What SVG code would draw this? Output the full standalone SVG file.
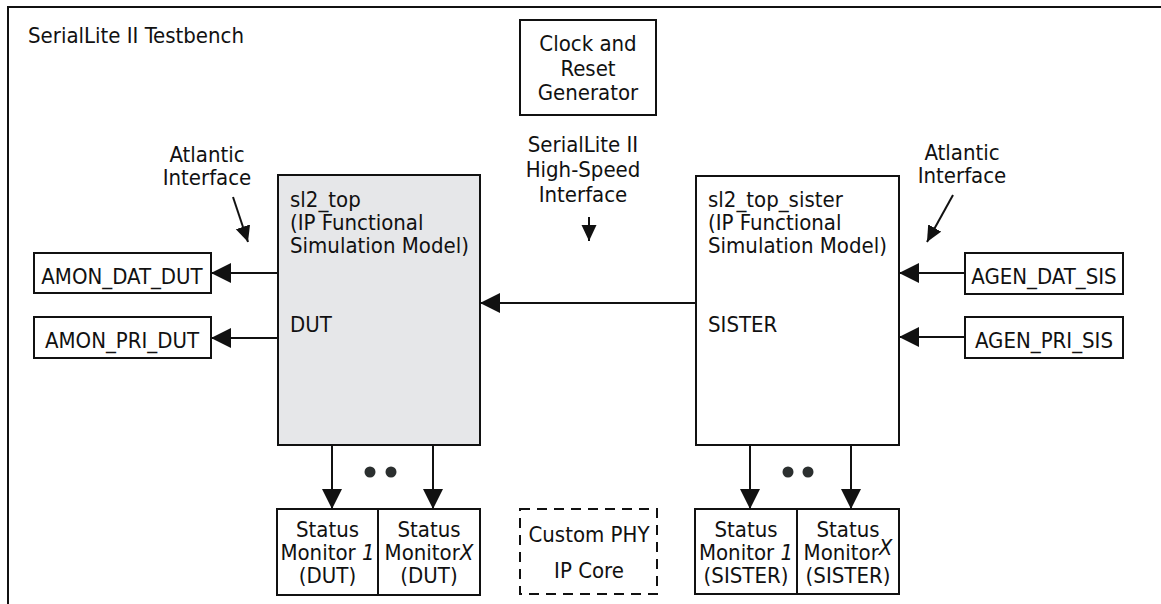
<svg xmlns="http://www.w3.org/2000/svg" width="1161" height="604" viewBox="0 0 1161 604">
<style>
text{font-family:"Liberation Sans Narrow","DejaVu Sans Condensed","Liberation Sans",sans-serif;font-stretch:condensed;font-size:22px;fill:#111}
.c{text-anchor:middle}
.box{fill:#fff;stroke:#111;stroke-width:2}
.gray{fill:#e6e7e9;stroke:#111;stroke-width:2}
.dash{fill:none;stroke:#111;stroke-width:2;stroke-dasharray:10 7}
.ln{fill:none;stroke:#111;stroke-width:2}
.big{marker-end:url(#ah)}
.sm{marker-end:url(#as)}
.dot{fill:#2b2f2f}
</style>
<defs>
<marker id="ah" markerUnits="userSpaceOnUse" markerWidth="22" markerHeight="22" refX="20" refY="10" orient="auto"><path d="M0,0 L20,10 L0,20 Z" fill="#111"/></marker>
<marker id="as" markerUnits="userSpaceOnUse" markerWidth="18" markerHeight="16" refX="16" refY="7.5" orient="auto"><path d="M0,0 L16,7.5 L0,15 Z" fill="#111"/></marker>
</defs>
<g id="frame">
<path class="ln" d="M8,604 V7 H1161" stroke-width="2.5"/>
<text x="28" y="43">SerialLite II Testbench</text>
</g>
<g id="clock">
<rect class="box" x="520" y="20" width="136" height="95"/>
<text class="c" x="588" y="51">Clock and</text>
<text class="c" x="588" y="76">Reset</text>
<text class="c" x="588" y="100">Generator</text>
</g>
<g id="hs-label">
<text class="c" x="583" y="152">SerialLite II</text>
<text class="c" x="583" y="177">High-Speed</text>
<text class="c" x="583" y="202">Interface</text>
</g>
<g id="atl-left">
<text class="c" x="207" y="162">Atlantic</text>
<text class="c" x="207" y="185">Interface</text>
</g>
<g id="atl-right">
<text class="c" x="962" y="160">Atlantic</text>
<text class="c" x="962" y="183">Interface</text>
</g>
<g id="dut">
<rect class="gray" x="278" y="175" width="202" height="270"/>
<text x="290" y="207">sl2_top</text>
<text x="290" y="230">(IP Functional</text>
<text x="290" y="253">Simulation Model)</text>
<text x="290" y="332">DUT</text>
</g>
<g id="sister">
<rect class="box" x="696" y="176" width="203" height="269"/>
<text x="708" y="207">sl2_top_sister</text>
<text x="708" y="230">(IP Functional</text>
<text x="708" y="253">Simulation Model)</text>
<text x="708" y="332">SISTER</text>
</g>
<g id="amon-dat">
<rect class="box" x="34" y="253" width="177" height="40"/>
<text class="c" x="122" y="284">AMON_DAT_DUT</text>
</g>
<g id="amon-pri">
<rect class="box" x="34" y="317" width="177" height="41"/>
<text class="c" x="122" y="348">AMON_PRI_DUT</text>
</g>
<g id="agen-dat">
<rect class="box" x="965" y="253" width="158" height="41"/>
<text class="c" x="1044" y="284">AGEN_DAT_SIS</text>
</g>
<g id="agen-pri">
<rect class="box" x="965" y="317" width="158" height="41"/>
<text class="c" x="1044" y="348">AGEN_PRI_SIS</text>
</g>
<g id="sm1-dut">
<rect class="box" x="277" y="509" width="101" height="86"/>
<text class="c" x="327.5" y="537">Status</text>
<text class="c" x="327.5" y="560">Monitor <tspan font-style="italic">1</tspan></text>
<text class="c" x="327.5" y="583">(DUT)</text>
</g>
<g id="smx-dut">
<rect class="box" x="378" y="509" width="102" height="86"/>
<text class="c" x="429" y="537">Status</text>
<text class="c" x="429" y="560">Monitor<tspan font-style="italic">X</tspan></text>
<text class="c" x="429" y="583">(DUT)</text>
</g>
<g id="phy">
<rect class="dash" x="520" y="509" width="137" height="85"/>
<text class="c" x="589" y="542">Custom PHY</text>
<text class="c" x="589" y="578">IP Core</text>
</g>
<g id="sm1-sis">
<rect class="box" x="695" y="509" width="102" height="85"/>
<text class="c" x="746" y="537">Status</text>
<text class="c" x="746" y="560">Monitor <tspan font-style="italic">1</tspan></text>
<text class="c" x="746" y="583">(SISTER)</text>
</g>
<g id="smx-sis">
<rect class="box" x="797" y="509" width="102" height="85"/>
<text class="c" x="848" y="537">Status</text>
<text class="c" x="848" y="560">Monitor<tspan font-style="italic" dy="-5">X</tspan></text>
<text class="c" x="848" y="583">(SISTER)</text>
</g>
<g id="connectors">
<line class="ln big" x1="278" y1="273" x2="211" y2="273"/>
<line class="ln big" x1="278" y1="338" x2="211" y2="338"/>
<line class="ln big" x1="965" y1="273" x2="899" y2="273"/>
<line class="ln big" x1="965" y1="337" x2="899" y2="337"/>
<line class="ln big" x1="696" y1="303" x2="480" y2="303"/>
<line class="ln big" x1="332" y1="445" x2="332" y2="509"/>
<line class="ln big" x1="433" y1="445" x2="433" y2="509"/>
<line class="ln big" x1="750" y1="445" x2="750" y2="509"/>
<line class="ln big" x1="851" y1="445" x2="851" y2="509"/>
<line class="ln sm" x1="589" y1="217" x2="589" y2="241"/>
<line class="ln sm" x1="233" y1="197" x2="248" y2="242"/>
<line class="ln sm" x1="953" y1="195" x2="927" y2="242"/>
<circle class="dot" cx="370" cy="472" r="5.5"/>
<circle class="dot" cx="391" cy="472" r="5.5"/>
<circle class="dot" cx="788" cy="472" r="5.5"/>
<circle class="dot" cx="808" cy="472" r="5.5"/>
</g>
</svg>
